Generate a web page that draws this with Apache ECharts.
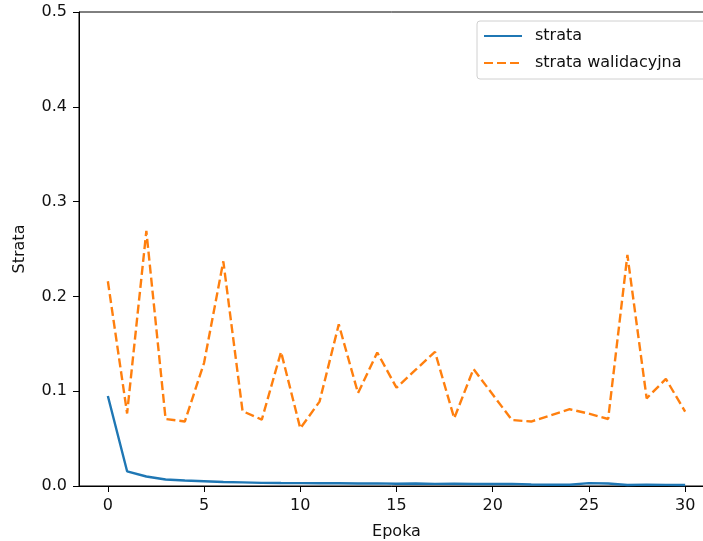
<!DOCTYPE html>
<html>
<head>
<meta charset="utf-8">
<script src="https://cdn.jsdelivr.net/npm/echarts@6/dist/echarts.min.js"></script>
<style>
  html, body { margin: 0; padding: 0; background: #fff; overflow: hidden; }
  #chart { width: 703px; height: 541px; }
</style>
</head>
<body>
<div id="chart"></div>
<script>
// Training history: loss per epoch
const epochs = Array.from({ length: 31 }, (_, i) => i);
const trainLoss = [0.095, 0.0155, 0.010, 0.0068, 0.0058, 0.005, 0.0042, 0.0038, 0.0033, 0.0031,
  0.003, 0.0029, 0.0029, 0.0027, 0.0028, 0.0024, 0.0026, 0.0022, 0.0023, 0.0021,
  0.0021, 0.0022, 0.0016, 0.0013, 0.0013, 0.003, 0.0026, 0.0011, 0.0015, 0.0012, 0.0011];
const valLoss = [0.216, 0.0765, 0.269, 0.0707, 0.068, 0.130, 0.237, 0.079, 0.070, 0.1415,
  0.0608, 0.089, 0.1705, 0.098, 0.1408, 0.1037, 0.1227, 0.1415, 0.0714, 0.1234,
  0.0965, 0.0696, 0.068, 0.0745, 0.081, 0.0763, 0.0707, 0.2437, 0.0925, 0.1129, 0.0784];
const xTicks = [0, 5, 10, 15, 20, 25, 30];

const font = 'DejaVu Sans';
const textColor = '#111';
const fontSize = 16;

const chart = echarts.init(document.getElementById('chart'), null, { renderer: 'canvas' });
chart.setOption({
  animation: false,
  backgroundColor: '#fff',
  grid: {
    left: 79, top: 12, width: 635, height: 474,
    outerBoundsMode: 'none',
    containLabel: false,
    show: true, borderColor: '#000', borderWidth: 1, backgroundColor: 'transparent'
  },
  legend: {
    orient: 'vertical',
    left: 477, top: 21,
    padding: [7, 40, 8, 6],
    itemWidth: 38, itemHeight: 16, itemGap: 11,
    borderColor: '#d0d0d0', borderWidth: 1, borderRadius: 3,
    backgroundColor: 'rgba(255,255,255,0.8)',
    itemStyle: { opacity: 0 },
    textStyle: { fontFamily: font, fontSize: fontSize, color: textColor, padding: [0, 0, 0, 8] },
    data: ['strata', 'strata walidacyjna']
  },
  xAxis: {
    type: 'value', min: -1.5, max: 31.5,
    name: 'Epoka', nameLocation: 'middle', nameGap: 38,
    nameTextStyle: { fontFamily: font, fontSize: fontSize, color: textColor },
    splitLine: { show: false },
    axisLine: { show: true, onZero: false, lineStyle: { color: '#000', width: 1 } },
    axisTick: { show: true, length: 6, customValues: xTicks, lineStyle: { color: '#000' } },
    axisLabel: { customValues: xTicks, fontFamily: font, fontSize: fontSize, color: textColor, margin: 12 }
  },
  yAxis: {
    type: 'value', min: 0, max: 0.5, interval: 0.1,
    name: 'Strata', nameLocation: 'middle', nameGap: 51,
    nameTextStyle: { fontFamily: font, fontSize: fontSize, color: textColor },
    splitLine: { show: false },
    axisLine: { show: true, onZero: false, lineStyle: { color: '#000', width: 1 } },
    axisTick: { show: true, length: 6, lineStyle: { color: '#000' } },
    axisLabel: { fontFamily: font, fontSize: fontSize, color: textColor, margin: 12,
      formatter: v => v.toFixed(1) }
  },
  series: [
    {
      name: 'strata', type: 'line', symbol: 'none',
      data: epochs.map((e, i) => [e, trainLoss[i]]),
      lineStyle: { color: '#1f77b4', width: 2.4 },
      itemStyle: { color: '#1f77b4' }
    },
    {
      name: 'strata walidacyjna', type: 'line', symbol: 'none',
      data: epochs.map((e, i) => [e, valLoss[i]]),
      lineStyle: { color: '#ff7f0e', width: 2.4, type: [9, 4] },
      itemStyle: { color: '#ff7f0e' }
    }
  ]
});
</script>
</body>
</html>
